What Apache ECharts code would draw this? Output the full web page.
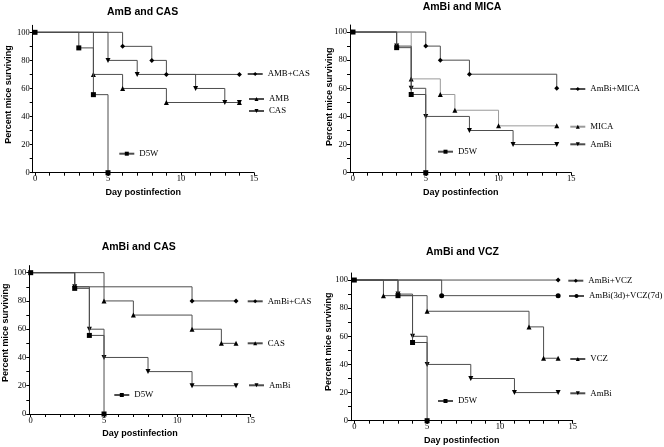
<!DOCTYPE html>
<html><head><meta charset="utf-8">
<script src="https://cdn.jsdelivr.net/npm/echarts@6/dist/echarts.min.js"></script>
<style>html,body{margin:0;padding:0;background:#fff}#c{width:664px;height:447px}</style>
</head><body><div id="c"></div>
<script>
// ---- tick labels ----
const xTickLabels = [0, 5, 10, 15];
const xTickMarks = [0, 1, 2, 3, 4, 5, 6, 7, 8, 9, 10, 11, 12, 13, 14, 15];
const yTickLabels = [0, 20, 40, 60, 80, 100];
const yTickMarks = [0, 10, 20, 30, 40, 50, 60, 70, 80, 90, 100];

// ---- panel 1: AmB and CAS ([day, percent surviving]) ----
const p1AmbCas = [[0, 100], [6, 90], [8, 80], [9, 70], [14, 70]];
const p1Amb = [[0, 100], [4, 70], [6, 60], [9, 50], [14, 50]];
const p1Cas = [[0, 100], [5, 80], [7, 70], [11, 60], [13, 50], [14, 50]];
const p1D5w = [[0, 100], [3, 88.9], [4, 55.6], [5, 0]];

// ---- panel 2: AmBi and MICA ----
const p2AmbiMica = [[0, 100], [5, 90], [6, 80], [8, 70], [14, 60]];
const p2Mica = [[0, 100], [4, 66.7], [6, 55.6], [7, 44.4], [10, 33.3], [14, 33.3]];
const p2Ambi = [[0, 100], [3, 90], [4, 60], [5, 40], [8, 30], [11, 20], [14, 20]];
const p2D5w = [[0, 100], [3, 88.9], [4, 55.6], [5, 0]];

// ---- panel 3: AmBi and CAS ----
const p3AmbiCas = [[0, 100], [3, 90], [11, 80], [14, 80]];
const p3Cas = [[0, 100], [5, 80], [7, 70], [11, 60], [13, 50], [14, 50]];
const p3Ambi = [[0, 100], [3, 90], [4, 60], [5, 40], [8, 30], [11, 20], [14, 20]];
const p3D5w = [[0, 100], [3, 88.9], [4, 55.6], [5, 0]];

// ---- panel 4: AmBi and VCZ ----
const p4AmbiVcz = [[0, 100], [14, 100]];
const p4Ambi3dVcz7d = [[0, 100], [6, 88.9], [14, 88.9]];
const p4Vcz = [[0, 100], [2, 88.9], [5, 77.8], [12, 66.7], [13, 44.4], [14, 44.4]];
const p4Ambi = [[0, 100], [3, 90], [4, 60], [5, 40], [8, 30], [11, 20], [14, 20]];
const p4D5w = [[0, 100], [3, 88.9], [4, 55.6], [5, 0]];

// ---- styling / layout ----
const SYM = { diamond: 'diamond', up: 'triangle', down: 'path://M0,0L10,0L5,10Z', square: 'rect', circle: 'circle' };
const SIZE = { diamond: 5, up: 5, down: 5, square: 5, circle: 5 };
const DARK = '#4d4d4d', LIGHT = '#9a9a9a';
const SANS = 'Liberation Sans', SERIF = 'Liberation Serif';

const panels = [
  { title: 'AmB and CAS', tl: 107, tt: 7, grid: { left: 32.7, top: 25.3, width: 221.3, height: 147.4 },
    xMin: -0.158, yGap: 19.5, yPad: 9, xGap: 15.5,
    series: [
      { name: 'AMB+CAS', data: p1AmbCas, sym: 'diamond', lg: [246.7, 74] },
      { name: 'AMB', data: p1Amb, sym: 'up', lg: [248, 99] },
      { name: 'CAS', data: p1Cas, sym: 'down', lg: [248, 111] },
      { name: 'D5W', data: p1D5w, sym: 'square', lg: [118.3, 153.7] }
    ] },
  { title: 'AmBi and MICA', tl: 422.7, tt: 1.5, grid: { left: 350, top: 25, width: 221.3, height: 147.7 },
    xMin: -0.206, yGap: 15.5, yPad: 4, xGap: 15.5,
    series: [
      { name: 'AmBi+MICA', data: p2AmbiMica, sym: 'diamond', lg: [569.3, 89] },
      { name: 'MICA', data: p2Mica, sym: 'up', lg: [569.3, 126.7], lc: LIGHT },
      { name: 'AmBi', data: p2Ambi, sym: 'down', lg: [569.3, 144.3] },
      { name: 'D5W', data: p2D5w, sym: 'square', lg: [437, 151.7] }
    ] },
  { title: 'AmBi and CAS', tl: 101.7, tt: 241.5, grid: { left: 29.3, top: 265.6, width: 221.4, height: 148.4 },
    xMin: -0.095, yGap: 19, yPad: 14, xGap: 15,
    series: [
      { name: 'AmBi+CAS', data: p3AmbiCas, sym: 'diamond', lg: [246.7, 301.3] },
      { name: 'CAS ', data: p3Cas, sym: 'up', lg: [246.7, 343.3] },
      { name: 'AmBi', data: p3Ambi, sym: 'down', lg: [248, 385.3] },
      { name: 'D5W', data: p3D5w, sym: 'square', lg: [113.3, 395] }
    ] },
  { title: 'AmBi and VCZ', tl: 426, tt: 247, grid: { left: 351, top: 273, width: 221.7, height: 147.7 },
    xMin: -0.227, yGap: 18, yPad: 10, xGap: 15.5,
    series: [
      { name: 'AmBi+VCZ', data: p4AmbiVcz, sym: 'diamond', lg: [567.3, 280.7] },
      { name: 'AmBi(3d)+VCZ(7d)', data: p4Ambi3dVcz7d, sym: 'circle', lg: [568, 296] },
      { name: 'VCZ', data: p4Vcz, sym: 'up', lg: [569.3, 359] },
      { name: 'AmBi', data: p4Ambi, sym: 'down', lg: [569.3, 393.3] },
      { name: 'D5W', data: p4D5w, sym: 'square', lg: [437, 401] }
    ] }
];

const option = { animation: false, backgroundColor: '#fff', title: [], grid: [], xAxis: [], yAxis: [], legend: [], series: [] };

panels.forEach((p, i) => {
  option.title.push({ text: p.title, left: p.tl, top: p.tt, padding: 0,
    textStyle: { fontFamily: SANS, fontWeight: 'bold', fontSize: 10.5, color: '#000' } });
  option.grid.push(Object.assign({ containLabel: false, outerBoundsMode: 'none' }, p.grid));
  const nameStyle = { fontFamily: SANS, fontWeight: 'bold', fontSize: 9, color: '#000' };
  option.xAxis.push({
    type: 'value', gridIndex: i, min: p.xMin, max: 15,
    name: 'Day postinfection', nameLocation: 'middle', nameGap: p.xGap, nameMoveOverlap: false,
    nameTextStyle: nameStyle,
    axisLine: { onZero: false, lineStyle: { color: '#000', width: 1 } },
    axisTick: { show: true, customValues: xTickMarks, length: 3, lineStyle: { color: '#000', width: 1 } },
    axisLabel: { customValues: xTickLabels, margin: 2, fontFamily: SERIF, fontSize: 8.5, color: '#000' },
    splitLine: { show: false }
  });
  option.yAxis.push({
    type: 'value', gridIndex: i, min: 0, max: 105,
    name: 'Percent mice surviving', nameLocation: 'middle', nameGap: p.yGap, nameMoveOverlap: false,
    nameTextStyle: Object.assign({ padding: [0, 0, 0, p.yPad] }, nameStyle),
    axisLine: { show: true, onZero: false, lineStyle: { color: '#000', width: 1 } },
    axisTick: { show: true, customValues: yTickMarks, length: 3, lineStyle: { color: '#000', width: 1 } },
    axisLabel: { customValues: yTickLabels, margin: 3, fontFamily: SERIF, fontSize: 8.5, color: '#000' },
    splitLine: { show: false }
  });
  p.series.forEach(s => {
    const isSq = s.sym === 'square';
    option.series.push({
      type: 'line', name: s.name, xAxisIndex: i, yAxisIndex: i, data: s.data, step: 'end',
      symbol: SYM[s.sym],
      symbolSize: (v, pr) => (pr.dataIndex === 0 && !isSq) ? 0 : SIZE[s.sym],
      showSymbol: true, showAllSymbol: true, clip: false,
      lineStyle: { color: s.lc || DARK, width: 1 },
      itemStyle: { color: '#000' },
      emphasis: { disabled: true },
      z: isSq ? 4 : 3
    });
    option.legend.push({
      data: [s.name], left: s.lg[0], top: s.lg[1] - 5, padding: 0,
      itemWidth: 15, itemHeight: 5, selectedMode: false,
      formatter: n => n.trim(),
      textStyle: { fontFamily: SERIF, fontSize: 8.8, color: '#000', lineHeight: 10 }
    });
  });
});

const chart = echarts.init(document.getElementById('c'), null, { renderer: 'canvas' });
chart.setOption(option);
</script>
</body></html>
